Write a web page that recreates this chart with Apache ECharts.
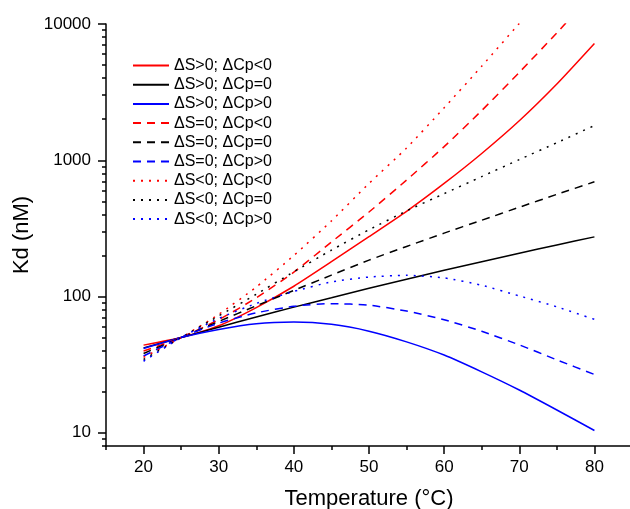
<!DOCTYPE html>
<html>
<head>
<meta charset="utf-8">
<script src="https://cdn.jsdelivr.net/npm/echarts@6/dist/echarts.min.js"></script>
<style>
html, body { margin: 0; padding: 0; background: #ffffff; }
#chart { width: 630px; height: 509px; }
</style>
</head>
<body>
<div id="chart"></div>
<script>
// ---- data ----
const temperatures = [20, 25, 30, 35, 40, 45, 50, 55, 60, 65, 70, 75, 80];

const redSolid    = [44, 50, 61, 83, 119, 180, 275, 422, 676, 1122, 1950, 3630, 7200];
const blackSolid  = [42, 50, 59.6, 70.8, 83.6, 98, 115, 134, 156, 180, 208, 239, 274];
const blueSolid   = [41.5, 50, 57.3, 63.2, 65, 62.5, 55.7, 46.5, 37.2, 28, 20.6, 14.7, 10.4];

const redDashed   = [39.8, 50, 67.6, 97.7, 151, 251, 417, 716, 1259, 2317, 4416, 8610, 17400];
const blackDashed = [38.2, 50, 65.6, 85.5, 111, 143.5, 185, 233, 292, 363, 452, 562, 695];
const blueDashed  = [36.6, 50, 63.8, 75.9, 84.9, 88.7, 86.5, 78.2, 67.6, 55.6, 44.2, 34.3, 26.8];

const redDotted   = [35.8, 50, 74, 117.5, 200, 359, 676, 1230, 2427, 4900, 10100];
const blackDotted = [34.5, 50, 72, 104, 152, 219, 309, 425, 569, 759, 1012, 1345, 1800];
const blueDotted  = [33.5, 50, 69, 89, 109, 128, 139, 143, 137, 121, 101, 84, 68];

const seriesNames = [
  'ΔS>0; ΔCp<0', 'ΔS>0; ΔCp=0', 'ΔS>0; ΔCp>0',
  'ΔS=0; ΔCp<0', 'ΔS=0; ΔCp=0', 'ΔS=0; ΔCp>0',
  'ΔS<0; ΔCp<0', 'ΔS<0; ΔCp=0', 'ΔS<0; ΔCp>0'
];

const xMajorTicks = [20, 30, 40, 50, 60, 70, 80];
const xMinorTicks = [15, 25, 35, 45, 55, 65, 75, 85];
const yMajorTicks = [10, 100, 1000, 10000];
const yMinorTicks = [8, 9, 20, 30, 40, 50, 60, 70, 80, 90,
                     200, 300, 400, 500, 600, 700, 800, 900,
                     2000, 3000, 4000, 5000, 6000, 7000, 8000, 9000];

// ---- styling ----
const FONT = 'Arial, "Liberation Sans", sans-serif';
const RED = '#ff0000', BLACK = '#000000', BLUE = '#0000ff';
const DASH = [8, 6], DOT = [2, 6];

const seriesValues = [redSolid, blackSolid, blueSolid, redDashed, blackDashed, blueDashed, redDotted, blackDotted, blueDotted];
const seriesColors = [RED, BLACK, BLUE, RED, BLACK, BLUE, RED, BLACK, BLUE];
const seriesDash = ['solid', 'solid', 'solid', DASH, DASH, DASH, DOT, DOT, DOT];

const series = seriesValues.map((vals, i) => ({
  name: seriesNames[i],
  type: 'line',
  xAxisIndex: 0,
  yAxisIndex: 0,
  data: vals.map((v, j) => [temperatures[j], v]),
  symbol: 'none',
  showSymbol: false,
  smooth: 0.2,
  clip: true,
  color: seriesColors[i],
  lineStyle: { color: seriesColors[i], width: 1.5, type: seriesDash[i], cap: 'butt' },
  emphasis: { disabled: true },
  animation: false
}));

const plainNumber = (v) => String(Math.round(v));

const chart = echarts.init(document.getElementById('chart'), null, { renderer: 'canvas' });
chart.setOption({
  backgroundColor: '#ffffff',
  animation: false,
  textStyle: { fontFamily: FONT, color: '#000' },
  grid: { left: 106, top: 24, right: -2, bottom: 63, containLabel: false, outerBoundsMode: 'none' },
  legend: {
    orient: 'vertical',
    left: 132,
    top: 57.5,
    padding: 0,
    itemWidth: 36,
    itemHeight: 12,
    itemGap: 3.2,
    itemStyle: { opacity: 0, color: 'transparent', borderWidth: 0 },
    textStyle: { fontFamily: FONT, fontSize: 16, color: '#000', lineHeight: 16 },
    data: seriesNames,
    selectedMode: false
  },
  xAxis: [
    {
      type: 'value', min: 15, max: 85,
      name: 'Temperature (°C)', nameLocation: 'middle', nameGap: 42,
      nameTextStyle: { fontFamily: FONT, fontSize: 22, color: '#000' },
      axisLine: { show: true, lineStyle: { color: '#000', width: 1.5 } },
      axisTick: { show: true, length: 8, lineStyle: { color: '#000', width: 1.5 }, customValues: xMajorTicks },
      axisLabel: { fontFamily: FONT, fontSize: 17, color: '#000', margin: 13, customValues: xMajorTicks, formatter: plainNumber },
      splitLine: { show: false }
    },
    {
      type: 'value', min: 15, max: 85, position: 'bottom',
      axisLine: { show: false },
      axisTick: { show: true, length: 4, lineStyle: { color: '#000', width: 1.5 }, customValues: xMinorTicks },
      axisLabel: { show: false },
      splitLine: { show: false }
    }
  ],
  yAxis: [
    {
      type: 'log', logBase: 10, min: 8, max: 10000,
      name: 'Kd (nM)', nameLocation: 'middle', nameGap: 70.5,
      nameTextStyle: { fontFamily: FONT, fontSize: 22, color: '#000' },
      axisLine: { show: true, lineStyle: { color: '#000', width: 1.5 } },
      axisTick: { show: true, length: 8, lineStyle: { color: '#000', width: 1.5 }, customValues: yMajorTicks },
      axisLabel: { fontFamily: FONT, fontSize: 17, color: '#000', margin: 15, customValues: yMajorTicks, formatter: plainNumber },
      splitLine: { show: false }
    },
    {
      type: 'log', logBase: 10, min: 8, max: 10000, position: 'left',
      axisLine: { show: false },
      axisTick: { show: true, length: 4, lineStyle: { color: '#000', width: 1.5 }, customValues: yMinorTicks },
      axisLabel: { show: false },
      splitLine: { show: false }
    }
  ],
  series: series
});
</script>
</body>
</html>
